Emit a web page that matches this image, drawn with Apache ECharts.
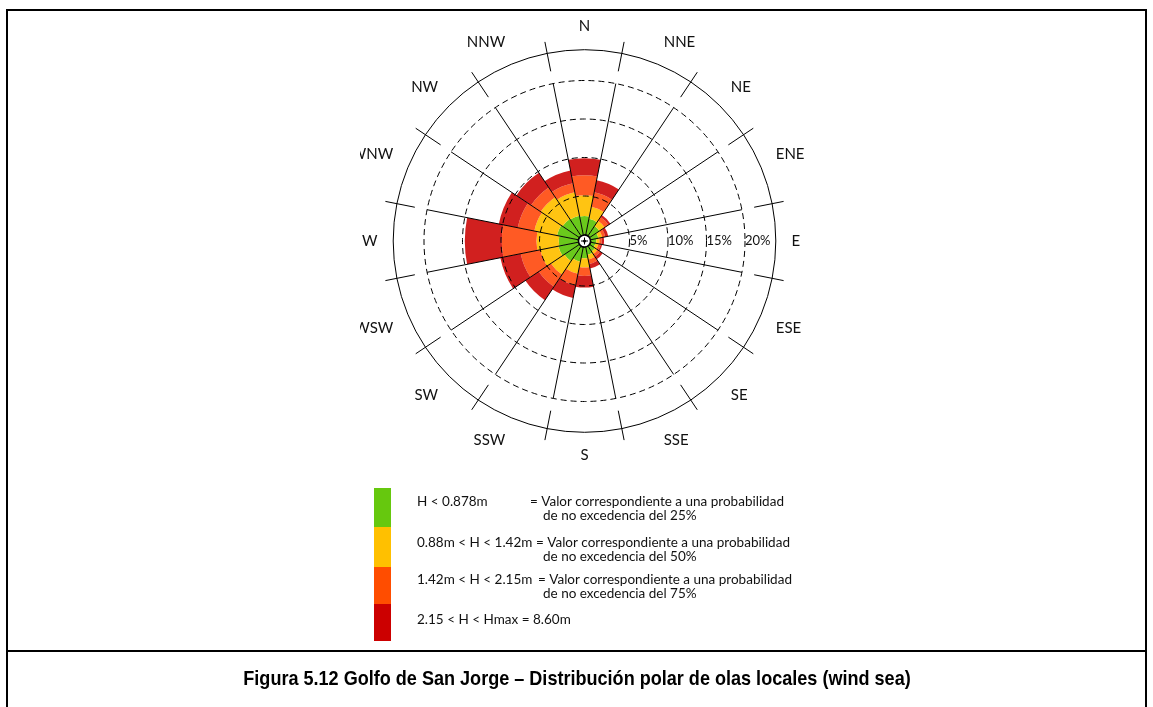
<!DOCTYPE html>
<html>
<head>
<meta charset="utf-8">
<script src="https://cdn.jsdelivr.net/npm/echarts@6/dist/echarts.min.js"></script>
<style>
  html, body { margin: 0; padding: 0; background: #fff; }
  #chart { width: 1153px; height: 707px; }
</style>
</head>
<body>
<div id="chart"></div>
<script>
// Sixteen compass sectors, clockwise from north
const directions = ['N', 'NNE', 'NE', 'ENE', 'E', 'ESE', 'SE', 'SSE', 'S', 'SSW', 'SW', 'WSW', 'W', 'WNW', 'NW', 'NNW'];

// Frequency of occurrence (%) per sector for each wave-height class (stacked)
const pLow  = [2.4, 2.1, 1.5, 1.0, 0.7, 0.6, 0.8, 1.0, 1.4, 1.9, 2.3, 2.6, 2.5, 2.8, 2.6, 2.5];
const pMid  = [2.7, 1.6, 0.8, 0.5, 0.4, 0.4, 0.4, 0.6, 1.2, 1.6, 2.1, 2.4, 2.9, 3.0, 3.4, 3.1];
const pHigh = [2.6, 1.9, 0.6, 0.4, 0.3, 0.3, 0.4, 0.6, 1.1, 1.5, 1.9, 2.6, 4.5, 2.2, 1.5, 1.2];
const pTop  = [2.2, 1.6, 0.3, 0.4, 0.3, 0.2, 0.4, 0.6, 1.5, 1.7, 2.1, 2.7, 4.8, 2.5, 2.3, 1.7];

// Height classes and legend notes
const classNames = ['H < 0.878m', '0.88m < H < 1.42m', '1.42m < H < 2.15m', '2.15 < H < Hmax = 8.60m'];
const classNotes = [
  ['= Valor correspondiente a una probabilidad', 'de no excedencia del 25%'],
  ['= Valor correspondiente a una probabilidad', 'de no excedencia del 50%'],
  ['= Valor correspondiente a una probabilidad', 'de no excedencia del 75%'],
  null
];
const classColors = ['#66C80E', '#FFC000', '#FF4D00', '#CC0000'];   // legend swatches
const roseColors  = ['#6AC91C', '#FFC412', '#FF5A24', '#D1201F'];   // rose wedges

const ringMax = 20;       // last dashed ring (%)
const outerMax = 24;      // outer solid circle (%)
const ringStep = 5;

const captionText = 'Figura 5.12 Golfo de San Jorge \u2013 Distribuci\u00f3n polar de olas locales (wind sea)';

const chart = echarts.init(document.getElementById('chart'), null, { renderer: 'canvas' });

const C = [584.5, 241];
const R0 = 6.5;
const RPX = 7.7;           // pixels per percent
const rAt = v => R0 + v * RPX;
const sectorStart = 90 + 360 / directions.length / 2;
const labelFont = 'Lato';

const seriesData = [pLow, pMid, pHigh, pTop];

// Legend built as graphic elements
const legendGraphics = [];
const blockTops = [488, 527, 567, 604];
const blockHeights = [39, 40, 37, 37];
const firstLineY = [502, 543, 580, 620];
const noteX = [530, 536, 538];
const legendFont = '13.5px ' + labelFont;
classNames.forEach((name, i) => {
  legendGraphics.push({
    type: 'rect', shape: { x: 374, y: blockTops[i], width: 17, height: blockHeights[i] },
    style: { fill: classColors[i] }, z: 10
  });
  legendGraphics.push({
    type: 'text', x: 417, y: firstLineY[i],
    style: { text: name, font: legendFont, fill: '#111', textVerticalAlign: 'middle' }, z: 10
  });
  if (classNotes[i]) {
    legendGraphics.push({
      type: 'text', x: noteX[i], y: firstLineY[i],
      style: { text: classNotes[i][0], font: legendFont, fill: '#111', textVerticalAlign: 'middle' }, z: 10
    });
    legendGraphics.push({
      type: 'text', x: 543, y: firstLineY[i] + 14,
      style: { text: classNotes[i][1], font: legendFont, fill: '#111', textVerticalAlign: 'middle' }, z: 10
    });
  }
});

const option = {
  animation: false,
  backgroundColor: '#ffffff',
  polar: [
    { center: C, radius: [R0, rAt(outerMax)] },   // bars + outer circle
    { center: C, radius: [R0, rAt(ringMax)] },    // radial sector lines
    { center: C, radius: [R0 + 2, 203] },         // boundary ticks + direction labels
    { center: C, radius: [R0, rAt(ringMax)] }     // dashed rings + % labels
  ],
  angleAxis: [
    {
      polarIndex: 0, type: 'category', data: directions, startAngle: sectorStart, clockwise: true,
      boundaryGap: true,
      axisLine: { show: true, lineStyle: { color: '#000', width: 1 } },
      axisTick: { show: false }, axisLabel: { show: false }, splitLine: { show: false }
    },
    {
      polarIndex: 1, type: 'category', data: directions, startAngle: sectorStart, clockwise: true,
      boundaryGap: true, z: 6,
      axisLine: { show: false }, axisTick: { show: false }, axisLabel: { show: false },
      splitLine: { show: true, lineStyle: { color: '#000', width: 1 } }
    },
    {
      polarIndex: 2, type: 'category', data: directions, startAngle: sectorStart, clockwise: true,
      boundaryGap: true, z: 6,
      axisLine: { show: false },
      axisTick: { show: true, inside: true, length: 30, alignWithLabel: false, lineStyle: { color: '#000', width: 1 } },
      axisLabel: { show: true, margin: 4, color: '#111', fontFamily: labelFont, fontSize: 15 },
      splitLine: { show: false }
    },
    {
      polarIndex: 3, type: 'value', startAngle: 0, min: 0, max: 360, show: false
    }
  ],
  radiusAxis: [
    { polarIndex: 0, type: 'value', min: 0, max: outerMax, show: false },
    { polarIndex: 1, type: 'value', min: 0, max: ringMax, show: false },
    { polarIndex: 2, type: 'value', min: 0, max: 1, show: false },
    {
      polarIndex: 3, type: 'value', min: 0, max: ringMax, interval: ringStep, z: 6,
      axisLine: { show: false }, axisTick: { show: false },
      splitLine: { show: true, lineStyle: { color: '#000', width: 1, type: [6, 4] } },
      axisLabel: {
        show: true, margin: 0, align: 'left', verticalAlign: 'middle',
        color: '#111', fontFamily: labelFont, fontSize: 13,
        formatter: v => (v > 0 ? v + '%' : '')
      }
    }
  ],
  series: seriesData.map((vals, i) => ({
    type: 'bar',
    name: classNames[i],
    coordinateSystem: 'polar',
    polarIndex: 0,
    stack: 'rose',
    barCategoryGap: '0%',
    data: vals,
    itemStyle: { color: roseColors[i] },
    z: 2
  })),
  graphic: [
    // frame and caption divider
    { type: 'rect', shape: { x: 7, y: 10, width: 1139, height: 720 }, style: { fill: 'none', stroke: '#000', lineWidth: 2 }, z: 20 },
    { type: 'line', shape: { x1: 7, y1: 651, x2: 1146, y2: 651 }, style: { stroke: '#000', lineWidth: 2 }, z: 20 },
    {
      type: 'text', x: 577, y: 679, scaleX: 0.86,
      style: { text: captionText, font: 'bold 21px "Liberation Sans", Arial, sans-serif', fill: '#000', textAlign: 'center', textVerticalAlign: 'middle' },
      z: 20
    },
    // centre marker
    { type: 'circle', shape: { cx: C[0], cy: C[1], r: 6 }, style: { fill: '#fff', stroke: '#000', lineWidth: 1.5 }, z: 30 },
    { type: 'line', shape: { x1: C[0] - 3.5, y1: C[1], x2: C[0] + 3.5, y2: C[1] }, style: { stroke: '#000', lineWidth: 1 }, z: 31 },
    { type: 'line', shape: { x1: C[0], y1: C[1] - 3.5, x2: C[0], y2: C[1] + 3.5 }, style: { stroke: '#000', lineWidth: 1 }, z: 31 },
    { type: 'circle', shape: { cx: C[0], cy: C[1], r: 1.5 }, style: { fill: '#000' }, z: 31 },
    // left edge of the figure box hides part of the WNW / WSW labels
    { type: 'rect', shape: { x: 330, y: 140, width: 30, height: 30 }, style: { fill: '#fff' }, z: 40 },
    { type: 'rect', shape: { x: 330, y: 313, width: 30, height: 30 }, style: { fill: '#fff' }, z: 40 }
  ].concat(legendGraphics)
};

chart.setOption(option);
</script>
</body>
</html>
